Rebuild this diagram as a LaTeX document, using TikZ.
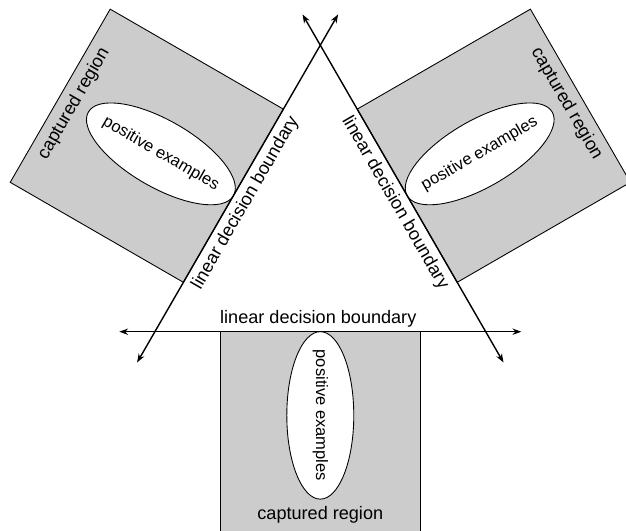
\documentclass[tikz,border=0pt]{standalone}
\usepackage{fontspec}
\setmainfont{Liberation Sans}
\usetikzlibrary{arrows.meta,shapes.geometric}
\tikzstyle{region}=[rectangle, draw=black, fill=black!20, line width=0.5pt,
                    minimum size=4cm, inner sep=0pt]
\tikzstyle{posbox}=[ellipse, draw=black, fill=white, line width=0.5pt,
                    minimum width=3.35cm, minimum height=1.34cm, inner sep=0pt]
\tikzstyle{tbox}=[inner sep=0pt]
\tikzstyle{ptext}=[inner sep=0pt, font=\fontsize{9.4}{11}\selectfont]
\tikzstyle{bline}=[{Stealth[length=5pt,width=3.6pt]}-{Stealth[length=5pt,width=3.6pt]}, line width=0.8pt]

\begin{document}
\begin{tikzpicture}[x=0.02cm, y=0.02cm, font=\fontsize{10.3}{12}\selectfont]
\useasboundingbox (-320.3,-294.8) rectangle (305.7,236.2);

% bottom side
\node (BSQ) [region] at (0,-195.5) {};
\node (BPOS) [posbox, rotate=-90] at (0,-179.2) {};
\node (BPOSTXT) [ptext, rotate=-90] at (BPOS.center) {positive examples};
\node (BCAP) [tbox] at (0,-278.6) {captured region};
\coordinate (BL1) at (-201,-95.5);
\coordinate (BL2) at (201,-95.5);
\draw[bline] (BL1) -- (BL2);
\node (BLAB) [tbox] at (-2,-82.4) {linear decision boundary};

% left side
\begin{scope}[rotate=-120]
\node (LSQ) [region, rotate=60] at (8.4,-195.5) {};
\node (LPOS) [posbox, rotate=-30] at (8.4,-179.2) {};
\node (LPOSTXT) [ptext, rotate=-30] at (LPOS.center) {positive examples};
\node (LCAP) [tbox, rotate=60] at (8.4,-279.5) {captured region};
\coordinate (LL1) at (-201,-95.5);
\coordinate (LL2) at (201,-95.5);
\draw[bline] (LL1) -- (LL2);
\node (LLAB) [tbox, rotate=60] at (8.4,-81.5) {linear decision boundary};
\end{scope}

% right side
\begin{scope}[rotate=120]
\node (RSQ) [region, rotate=-60] at (-8.4,-195.5) {};
\node (RPOS) [posbox, rotate=30] at (-8.4,-179.2) {};
\node (RPOSTXT) [ptext, rotate=30] at (RPOS.center) {positive examples};
\node (RCAP) [tbox, rotate=-60] at (-8.4,-279.5) {captured region};
\coordinate (RL1) at (-201,-95.5);
\coordinate (RL2) at (201,-95.5);
\draw[bline] (RL1) -- (RL2);
\node (RLAB) [tbox, rotate=-60] at (-8.4,-81.5) {linear decision boundary};
\end{scope}

\end{tikzpicture}
\end{document}
